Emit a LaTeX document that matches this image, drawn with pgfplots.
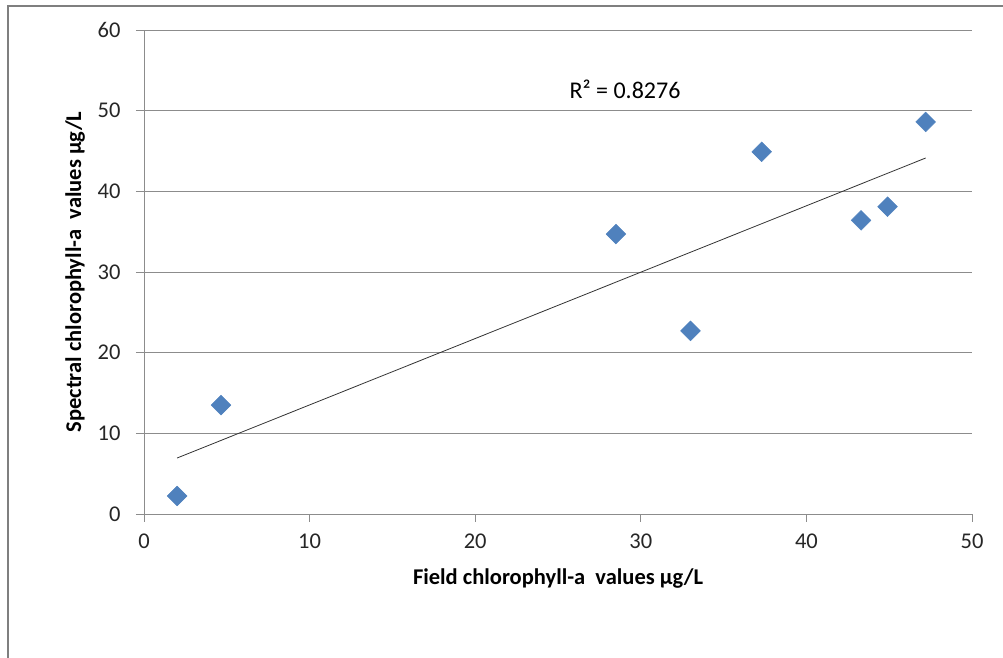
\documentclass[border=0pt]{standalone}
\usepackage{fontspec}
\setmainfont{Carlito}
\usepackage{pgfplots}
\pgfplotsset{compat=1.18}
\definecolor{ptblue}{HTML}{4F81BD}
\definecolor{gridgray}{HTML}{8C8C8C}
\definecolor{framegray}{HTML}{7F7F7F}
\begin{document}
\begin{tikzpicture}[x=1bp,y=1bp]
\useasboundingbox (-144,-144) rectangle (859,514);
\draw[framegray, line width=2.2bp] (-136,-150) -- (-136,508) -- (870,508);
\begin{axis}[
  at={(0,0)}, anchor=south west,
  scale only axis, width=828bp, height=484bp,
  xmin=0, xmax=50, ymin=0, ymax=60,
  xtick={0,10,...,50}, ytick={0,10,...,60},
  axis x line*=bottom, axis y line*=left,
  axis line style={gridgray, line width=0.8bp, -},
  ymajorgrids, major grid style={gridgray, line width=0.8bp},
  tick align=outside, major tick length=8bp,
  tick style={gridgray, line width=0.8bp},
  /pgf/number format/assume math mode=true,
  ticklabel style={font=\fontsize{22.5bp}{26bp}\selectfont, text=black!85},
  yticklabel style={xshift=-12bp},
  xticklabel style={yshift=-8bp},
  xlabel={\textbf{Field chlorophyll-a\hspace{0.45em}values µg/L}},
  ylabel={\textbf{Spectral chlorophyll-a\hspace{0.45em}values µg/L}},
  label style={font=\fontsize{22.5bp}{26bp}\selectfont},
  xlabel style={yshift=-14bp},
  ylabel style={yshift=6bp},
  clip=false,
]
\addplot[black!80, line width=0.8bp] coordinates {(2.0,6.94) (47.2,44.13)};
\addplot[only marks, mark=square*, mark size=7bp,
  mark options={rotate=45, fill=ptblue, draw=ptblue}]
  coordinates {
    (2.0,2.23) (4.65,13.5) (28.5,34.7) (33.0,22.7)
    (37.3,44.9) (43.3,36.4) (44.9,38.1) (47.2,48.6)
  };
\node[font=\fontsize{24bp}{28bp}\selectfont] at (axis cs:29.05,52.7) {R² = 0.8276};
\end{axis}
\end{tikzpicture}
\end{document}
